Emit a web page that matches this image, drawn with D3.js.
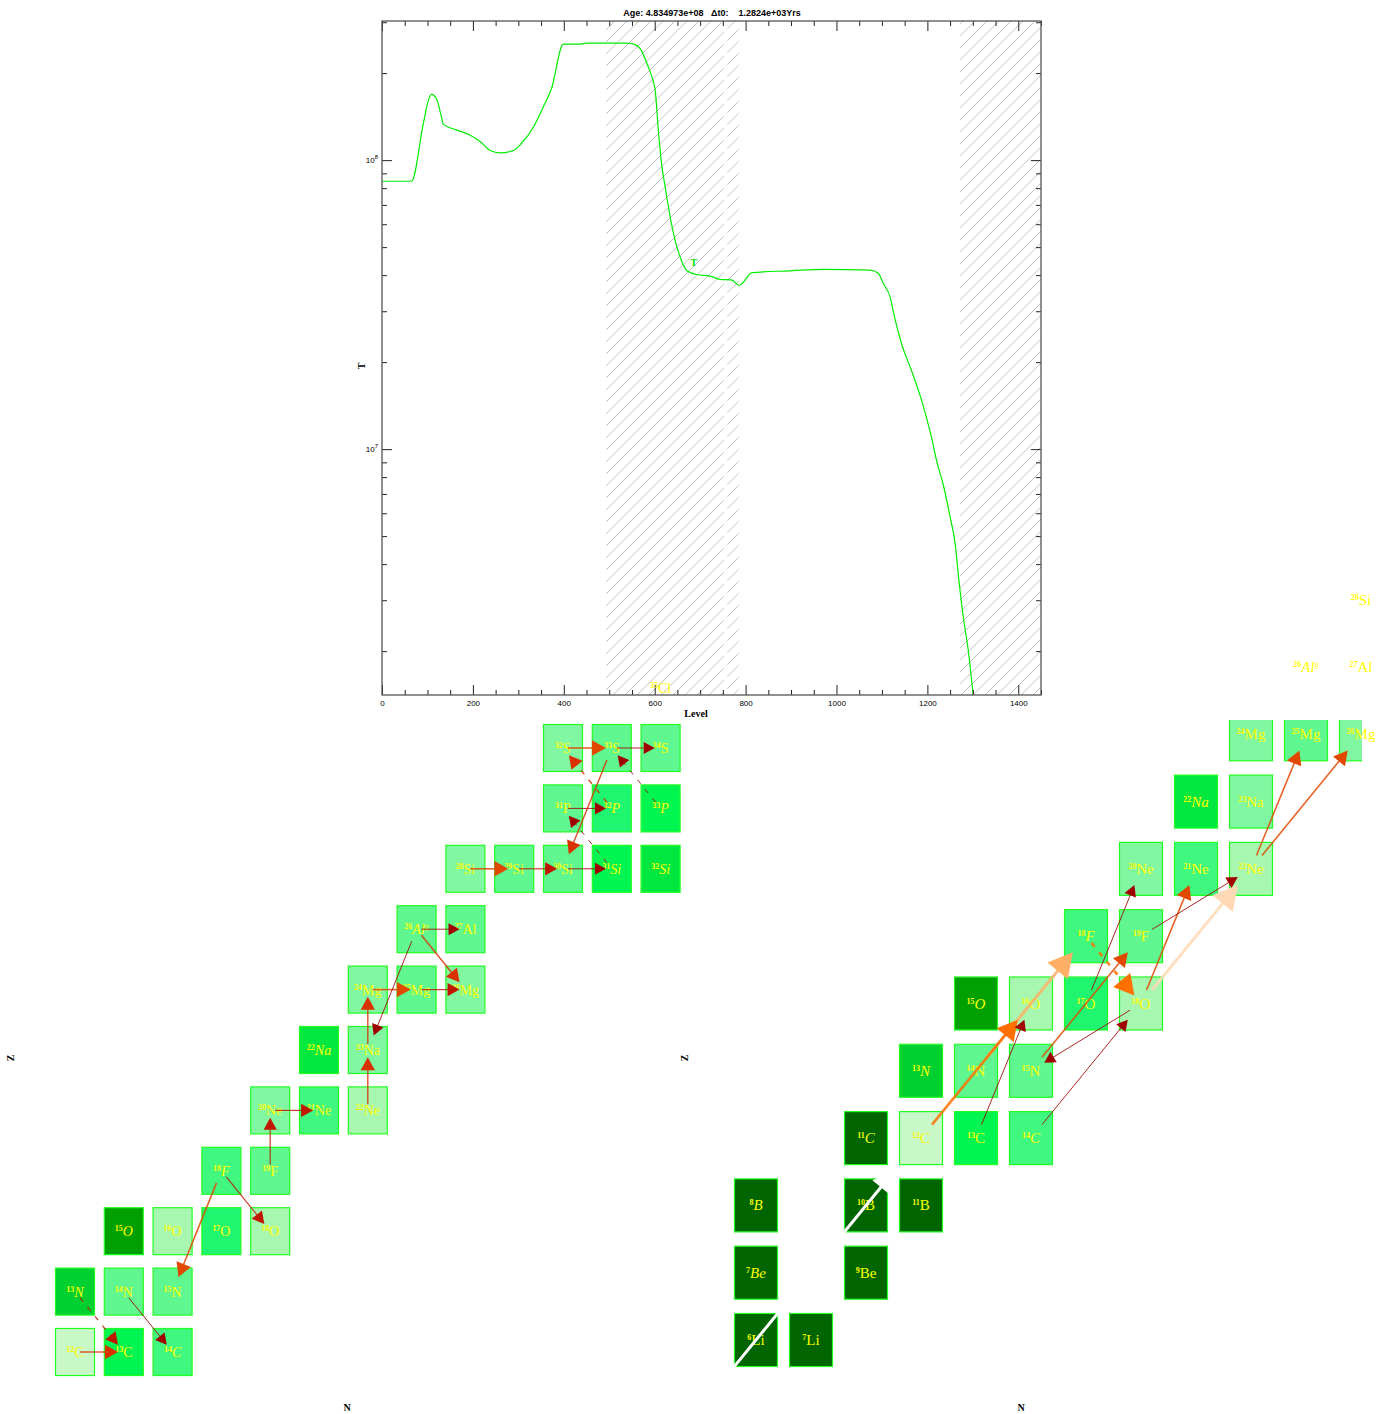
<!DOCTYPE html>
<html><head><meta charset="utf-8">
<script src="https://cdn.jsdelivr.net/npm/d3@7/dist/d3.min.js"></script>
<style>body{margin:0;background:#fff}svg{display:block}</style>
</head><body>
<svg id="c" width="1387" height="1414"></svg>
<script>
// ---------------- DATA ----------------
const titleText = "Age: 4.834973e+08   \u0394t0:    1.2824e+03Yrs";
const levels = [0,65,91,102,109,120,130,135,165,194,216,238,260,289,304,333,355,373,399,436,450,538,557,568,586,597,601,608,615,623,634,645,656,670,692,722,744,769,786,815,898,971,1074,1092,1103,1119,1125,1143,1165,1187,1209,1220,1236,1250,1261,1270,1279,1290,1301,1310];
const temps = [8.45e7,8.45e7,1.34e8,1.61e8,1.69e8,1.63e8,1.43e8,1.33e8,1.27e8,1.22e8,1.16e8,1.08e8,1.06e8,1.08e8,1.13e8,1.30e8,1.53e8,1.77e8,2.52e8,2.52e8,2.54e8,2.54e8,2.51e8,2.43e8,2.10e8,1.87e8,1.75e8,1.27e8,9.75e7,8.09e7,6.37e7,5.28e7,4.62e7,4.16e7,4.02e7,3.97e7,3.87e7,3.85e7,3.69e7,4.08e7,4.14e7,4.19e7,4.16e7,4.06e7,3.74e7,3.32e7,2.99e7,2.32e7,1.87e7,1.48e7,1.10e7,9.16e6,7.41e6,5.83e6,4.72e6,3.44e6,2.63e6,2.01e6,1.41e6,1.12e6];
const convZones = [[493,752],[760,785],[1272,1450]];
const xMajorTicks = [0,200,400,600,800,1000,1200,1400];
const yMajorTicks = [1e7,1e8];

const leftIsotopes = ["12C","13C","14C","13N","14N","15N","15O","16O","17O","18O","18F","19F","20Ne","21Ne","22Ne","22Na","23Na","24Mg","25Mg","26Mg","26Alg","27Al","28Si","29Si","30Si","31Si","32Si","31P","32P","33P","32S","33S","34S","35Cl"];
const leftShade    = [0,6,4,8,3,3,9,1,5,1,4,3,2,4,1,7,2,2,3,2,3,3,2,3,3,6,7,3,5,6,2,3,3,3];
const rightIsotopes = ["6Li","7Li","7Be","9Be","8B","10B","11B","11C","12C","13C","14C","13N","14N","15N","15O","16O","17O","18O","18F","19F","20Ne","21Ne","22Ne","22Na","23Na","24Mg","25Mg","26Mg","26Alg","27Al","28Si"];
const rightShade    = [10,10,10,10,10,10,10,10,0,6,4,8,3,3,9,1,5,1,4,3,2,4,1,7,2,2,3,2,3,3,2];
const unstable = ["7Be","8B","11C","14C","13N","15O","18F","22Na","26Alg","31Si","32Si","32P","33P"];

// flows: [from, to, flux class, decay(dashed)]
const leftFlows = [
 ["12C","13C",3,0],["13N","13C",2,1],["14N","14C",1,0],["18F","15N",4,0],["18F","18O",2,0],
 ["19F","20Ne",2,0],["20Ne","21Ne",2,0],["22Ne","23Na",3,0],["23Na","24Mg",3,0],["24Mg","25Mg",4,0],
 ["25Mg","26Mg",2,0],["26Alg","23Na",1,0],["26Alg","26Mg",3,0],["26Alg","27Al",1,0],
 ["28Si","29Si",4,0],["29Si","30Si",2,0],["30Si","31Si",1,0],["31Si","31P",1,1],["31P","32P",1,0],
 ["32P","32S",3,1],["33P","33S",1,1],["32S","33S",4,0],["33S","34S",1,0],["33S","30Si",3,0]
];
const rightFlows = [
 ["6Li","10B",0,0],["14N","18F",6,0],["12C","16O",5,0],["13C","16O",1,0],["14C","18O",1,0],
 ["15N","19F",4,0],["18O","15N",1,0],["18F","18O",5,1],["17O","20Ne",1,0],["18O","21Ne",4,0],
 ["18O","22Ne",7,0],["19F","22Ne",1,0],["22Ne","25Mg",4,0],["22Ne","26Mg",4,0]
];

// ---------------- STYLES ----------------
const shadeColors = ["#c8f7c8","#a8f7b0","#80f7a0","#60f790","#40f780","#20f570","#00f550","#00e840","#00d030","#00a000","#006400"];
const flowStyle = {
 0:{c:"#ffffff",w:3,h:20,t0:-0.2,t1:1.25},
 1:{c:"#a00000",w:1,h:11},
 2:{c:"#c01800",w:1.2,h:12},
 3:{c:"#d83000",w:1.4,h:13},
 4:{c:"#e04800",w:1.6,h:14},
 5:{c:"#ff7000",w:2.6,h:20},
 6:{c:"#ffb066",w:3,h:24},
 7:{c:"#ffd9b5",w:3,h:24}
};
const elemZ = {Li:3,Be:4,B:5,C:6,N:7,O:8,F:9,Ne:10,Na:11,Mg:12,Al:13,Si:14,P:15,S:16,Cl:17};
function parseIso(s){
  const m = s.match(/^(\d+)([A-Z][a-z]?)(g?)$/);
  const A=+m[1], sym=m[2], Z=elemZ[sym];
  return {name:s, A, sym, suf:m[3], Z, N:A-Z, unstable: unstable.includes(s)};
}

const svg = d3.select("#c");
const defs = svg.append("defs");

// ---------------- TOP PLOT ----------------
const x = d3.scaleLinear().domain([0,1450]).range([382,1041]);
const y = d3.scaleLog().domain([1.41e6,3.03e8]).range([695,21]);

const pat = defs.append("pattern").attr("id","hatch").attr("patternUnits","userSpaceOnUse")
  .attr("width",12).attr("height",12);
pat.append("path").attr("d","M0,12 L12,0 M-2,2 L2,-2 M10,14 L14,10")
  .attr("stroke","#b4b4b4").attr("stroke-width",0.8);
defs.append("clipPath").attr("id","plotclip").append("rect")
  .attr("x",382).attr("y",21).attr("width",659).attr("height",674);

const plot = svg.append("g");
plot.selectAll("rect.z").data(convZones).join("rect").attr("class","z")
  .attr("x",d=>x(d[0])).attr("y",21).attr("width",d=>x(d[1])-x(d[0])).attr("height",674)
  .attr("fill","url(#hatch)");

const line = d3.line().x((d,i)=>x(levels[i])).y(d=>y(d)).curve(d3.curveMonotoneX);
plot.append("path").datum(temps).attr("d",line).attr("clip-path","url(#plotclip)")
  .attr("fill","none").attr("stroke","#00ee00").attr("stroke-width",1.2);

// axes
function styleAxis(g){ g.select(".domain").remove(); g.selectAll(".tick line").attr("stroke","#222").attr("stroke-width",1);
  g.selectAll("text").attr("font-family","Liberation Sans, Arial, sans-serif").attr("font-size",8).attr("fill","#000"); }
const minorX = d3.range(0,1451,50).filter(v=>v%200!==0);
svg.append("g").attr("transform","translate(0,695)")
  .call(d3.axisBottom(x).tickValues(xMajorTicks).tickSize(-10).tickPadding(5).tickFormat(d3.format("d"))).call(styleAxis);
svg.append("g").attr("transform","translate(0,695)")
  .call(d3.axisBottom(x).tickValues(minorX).tickSize(-5).tickFormat("")).call(styleAxis);
svg.append("g").attr("transform","translate(0,21)")
  .call(d3.axisTop(x).tickValues(xMajorTicks).tickSize(-10).tickFormat("")).call(styleAxis);
svg.append("g").attr("transform","translate(0,21)")
  .call(d3.axisTop(x).tickValues(minorX).tickSize(-5).tickFormat("")).call(styleAxis);

const minorY = [2e6,3e6,4e6,5e6,6e6,7e6,8e6,9e6,2e7,3e7,4e7,5e7,6e7,7e7,8e7,9e7,2e8,3e8];
const yl = svg.append("g").attr("transform","translate(382,0)")
  .call(d3.axisLeft(y).tickValues(yMajorTicks).tickSize(-10).tickPadding(4).tickFormat("")).call(styleAxis);
yl.selectAll(".tick").append("text").attr("x",-4).attr("dy","0.3em").attr("text-anchor","end")
  .attr("font-family","Liberation Sans, Arial, sans-serif").attr("font-size",8).attr("fill","#000")
  .each(function(d){ const t=d3.select(this); t.append("tspan").text("10");
    t.append("tspan").attr("dy",-4).attr("font-size",6).text(Math.round(Math.log10(d))); });
svg.append("g").attr("transform","translate(382,0)")
  .call(d3.axisLeft(y).tickValues(minorY).tickSize(-5).tickFormat("")).call(styleAxis);
svg.append("g").attr("transform","translate(1041,0)")
  .call(d3.axisRight(y).tickValues(yMajorTicks).tickSize(-10).tickFormat("")).call(styleAxis);
svg.append("g").attr("transform","translate(1041,0)")
  .call(d3.axisRight(y).tickValues(minorY).tickSize(-5).tickFormat("")).call(styleAxis);

svg.append("rect").attr("x",382).attr("y",21).attr("width",659).attr("height",674)
  .attr("fill","none").attr("stroke","#555").attr("stroke-width",1.3);

svg.append("text").attr("x",712).attr("y",16).attr("text-anchor","middle")
  .attr("font-family","Liberation Sans, Arial, sans-serif").attr("font-size",9).attr("font-weight","bold")
  .style("white-space","pre").attr("xml:space","preserve").text(titleText);
svg.append("text").attr("x",696).attr("y",717).attr("text-anchor","middle")
  .attr("font-family","Liberation Serif, serif").attr("font-size",10).attr("font-weight","bold").text("Level");
svg.append("text").attr("transform","translate(365,366) rotate(-90)").attr("text-anchor","middle")
  .attr("font-family","Liberation Serif, serif").attr("font-size",10).attr("font-weight","bold").text("T");
svg.append("text").attr("x",x(686)).attr("y",y(4.3e7)).attr("text-anchor","middle")
  .attr("font-family","Liberation Serif, serif").attr("font-size",10).attr("font-weight","bold")
  .attr("fill","#00dd00").text("T");

// ---------------- NETWORK PANELS ----------------
const panels = [
 {isos:leftIsotopes, shade:leftShade, flows:leftFlows,
  xc:d3.scaleLinear().domain([6,18]).range([75,660.6]),
  yc:d3.scaleLinear().domain([6,16]).range([1352,748]),
  w:40,h:48,fs:14, clip:[0,720,688,660], zlab:[14,1058], nlab:[347,1407], id:"pl"},
 {isos:rightIsotopes, shade:rightShade, flows:rightFlows,
  xc:d3.scaleLinear().domain([3,14]).range([756,1361]),
  yc:d3.scaleLinear().domain([3,12]).range([1340,734.3]),
  w:44,h:54,fs:15, clip:[729,720,633,660], zlab:[688,1058], nlab:[1021,1407], id:"pr"}
];

panels.forEach(P=>{
  const nucs = P.isos.map((s,i)=>Object.assign(parseIso(s),{shade:P.shade[i]}));
  const byName = {}; nucs.forEach(n=>byName[n.name]=n);
  defs.append("clipPath").attr("id",P.id).append("rect")
    .attr("x",P.clip[0]).attr("y",P.clip[1]).attr("width",P.clip[2]).attr("height",P.clip[3]);
  const g = svg.append("g");
  const cells = g.append("g").attr("clip-path",`url(#${P.id})`);
  cells.selectAll("rect").data(nucs).join("rect")
    .attr("x",d=>P.xc(d.N)-P.w/2+0.5).attr("y",d=>P.yc(d.Z)-P.h/2+0.5)
    .attr("width",P.w-1).attr("height",P.h-1)
    .attr("fill",d=>shadeColors[d.shade]).attr("stroke","#22ff22").attr("stroke-width",1.2);
  const lab = g.append("g").selectAll("text").data(nucs).join("text")
    .attr("x",d=>P.xc(d.N)).attr("y",d=>P.yc(d.Z)+5).attr("text-anchor","middle")
    .attr("font-family","Liberation Serif, Times New Roman, serif").attr("fill","#ffff00");
  lab.each(function(d){
    const t=d3.select(this);
    t.append("tspan").attr("font-size",8).attr("font-weight","bold").attr("dy",-5).text(d.A);
    t.append("tspan").attr("font-size",P.fs).attr("dy",5).attr("font-style",d.unstable?"italic":"normal").text(d.sym);
    if(d.suf) t.append("tspan").attr("font-size",8).attr("dy",-5).attr("font-style","italic").text(d.suf);
  });
  const fg = g.append("g").attr("clip-path",`url(#${P.id})`);
  P.flows.forEach(f=>{
    const a=byName[f[0]], b=byName[f[1]], st=flowStyle[f[2]];
    const ax=P.xc(a.N), ay=P.yc(a.Z), bx=P.xc(b.N), by=P.yc(b.Z);
    const t0 = st.t0!==undefined?st.t0:0.1, t1 = st.t1!==undefined?st.t1:0.88;
    const dx=bx-ax, dy=by-ay, L=Math.hypot(dx,dy), ux=dx/L, uy=dy/L;
    const p0=[ax+t0*dx, ay+t0*dy], p1=[ax+t1*dx, ay+t1*dy];
    const hl=st.h, hw=st.h*0.55;
    const bx0=p1[0]-ux*hl, by0=p1[1]-uy*hl;
    fg.append("line").attr("x1",p0[0]).attr("y1",p0[1]).attr("x2",bx0+ux*2).attr("y2",by0+uy*2)
      .attr("stroke",st.c).attr("stroke-width",st.w).attr("stroke-opacity",f[2]===0?1:0.85)
      .attr("stroke-dasharray",f[3]?"5,7":null);
    fg.append("path").attr("d",`M${p1[0]},${p1[1]}L${bx0-uy*hw},${by0+ux*hw}L${bx0+uy*hw},${by0-ux*hw}Z`)
      .attr("fill",st.c);
  });
  svg.append("text").attr("transform",`translate(${P.zlab[0]},${P.zlab[1]}) rotate(-90)`).attr("text-anchor","middle")
    .attr("font-family","Liberation Serif, serif").attr("font-size",10).attr("font-weight","bold").text("Z");
  svg.append("text").attr("x",P.nlab[0]).attr("y",P.nlab[1]+4).attr("text-anchor","middle")
    .attr("font-family","Liberation Serif, serif").attr("font-size",10).attr("font-weight","bold").text("N");
});
</script>
</body></html>
